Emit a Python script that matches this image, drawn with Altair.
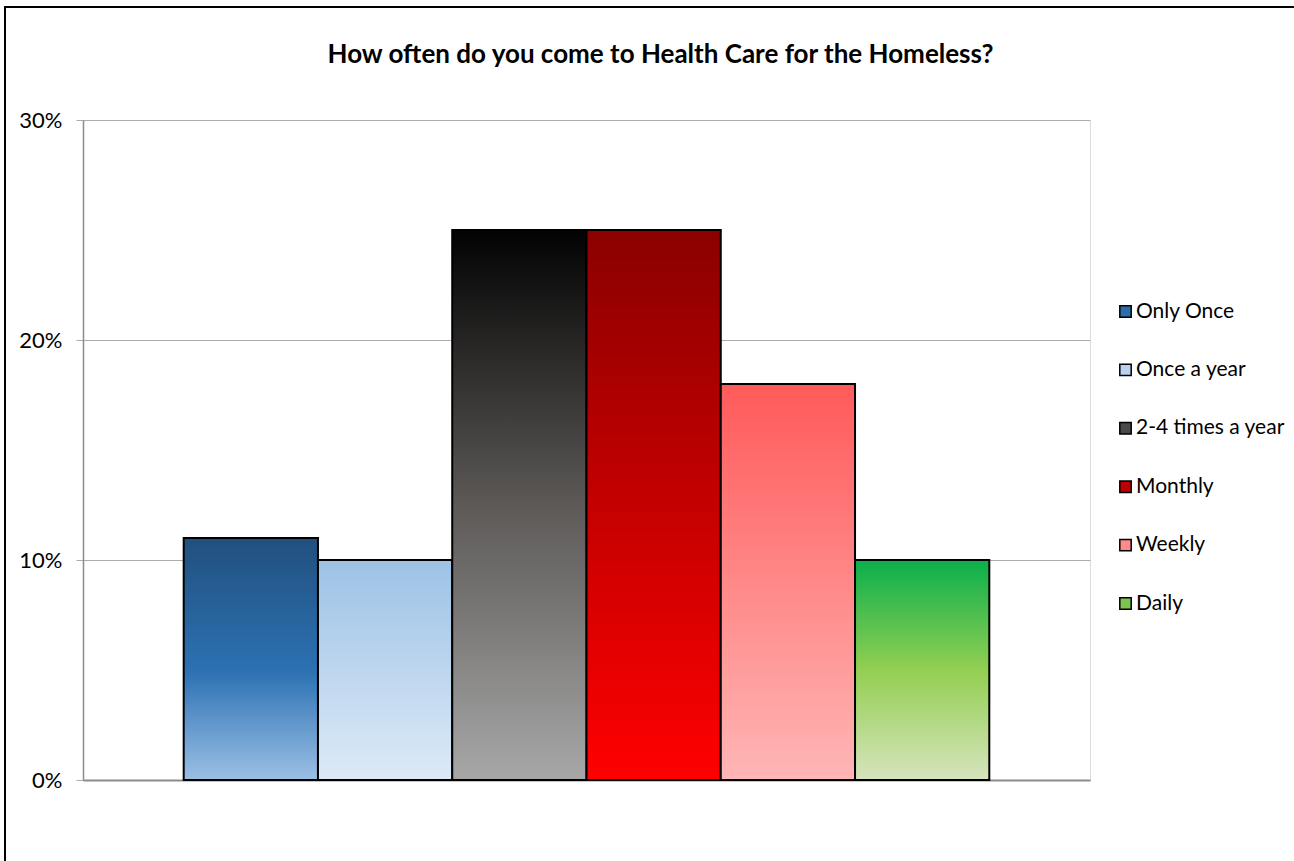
import altair as alt
import pandas as pd

# Survey answers and their shares
categories = ["Only Once", "Once a year", "2-4 times a year", "Monthly", "Weekly", "Daily"]
shares = [0.11, 0.10, 0.25, 0.25, 0.18, 0.10]

# Solid colours used for the legend swatches
swatch_colors = ["#2B6CAA", "#B7D3EE", "#4A4848", "#C00000", "#FF8A8A", "#7CC450"]

# Top-to-bottom gradient stops (offset, colour) for each bar
gradient_stops = [
    [(0.0, "#21507E"), (0.55, "#2C71B3"), (1.0, "#9BC0E5")],
    [(0.0, "#9DC2E6"), (1.0, "#DDEAF7")],
    [(0.0, "#020202"), (0.5, "#5C5957"), (1.0, "#A7A7A7")],
    [(0.0, "#8B0000"), (1.0, "#FF0000")],
    [(0.0, "#FF5A5A"), (1.0, "#FFB6B6")],
    [(0.0, "#0AAF4C"), (0.5, "#93CF52"), (1.0, "#D6E4BD")],
]

FONT = "Lato"

df = pd.DataFrame({"category": categories, "share": shares})

x_enc = alt.X(
    "category:N",
    sort=categories,
    scale=alt.Scale(paddingInner=0, paddingOuter=0.75),
    axis=alt.Axis(
        title=None, labels=False, ticks=False, grid=False,
        domain=True, domainColor="#8C8C8C", domainWidth=2,
    ),
)
y_enc = alt.Y(
    "share:Q",
    scale=alt.Scale(domain=[0, 0.3], nice=False),
    axis=alt.Axis(
        title=None, format=".0%", values=[0, 0.1, 0.2, 0.3],
        grid=True, gridColor="#ABABAB", gridWidth=1,
        domain=True, domainColor="#8C8C8C", domainWidth=1.5,
        ticks=True, tickSize=7, tickColor="#ABABAB",
        labelFont=FONT, labelFontSize=22, labelColor="#000000",
        labelPadding=14,
    ),
)

base = alt.Chart(df)

# Solid bars underneath supply the legend
legend_layer = base.mark_bar().encode(
    x=x_enc,
    y=y_enc,
    color=alt.Color(
        "category:N",
        sort=categories,
        scale=alt.Scale(domain=categories, range=swatch_colors),
        legend=alt.Legend(
            title=None, orient="none", legendX=1032, legendY=181,
            symbolType="square", symbolSize=130,
            symbolStrokeColor="#000000", symbolStrokeWidth=1.5,
            symbolOpacity=1,
            labelFont=FONT, labelFontSize=21, labelColor="#000000",
            labelOffset=0, rowPadding=36.4, labelLimit=300,
        ),
    ),
)

# One gradient-filled bar per answer
bar_layers = []
for cat, stops in zip(categories, gradient_stops):
    grad = alt.Gradient(
        gradient="linear",
        stops=[alt.GradientStop(color=c, offset=o) for o, c in stops],
        x1=0, x2=0, y1=0, y2=1,
    )
    bar_layers.append(
        base.transform_filter(alt.datum.category == cat)
        .mark_bar(fill=grad, stroke="#000000", strokeWidth=2)
        .encode(x=x_enc, y=y_enc)
    )

# Outer frame around the whole chart
frame = base.mark_rect(fill=None, stroke="#000000", strokeWidth=1.5).encode(
    x=alt.value(-78), x2=alt.value(1230), y=alt.value(-113), y2=alt.value(900)
)

# The frame reaches above the plot, so the title offset is measured from it
chart = (
    alt.layer(legend_layer, *bar_layers, frame)
    .properties(
        width=1007,
        height=660,
        title=alt.TitleParams(
            "How often do you come to Health Care for the Homeless?",
            font=FONT, fontSize=26, fontWeight="bold", color="#000000",
            anchor="middle", frame="group", dx=74, offset=-83,
            baseline="alphabetic",
        ),
        autosize=alt.AutoSizeParams(type="none"),
        padding={"left": 83, "top": 120, "right": 204, "bottom": 81},
    )
    .configure_view(stroke=None)
    .configure(background="#FFFFFF")
)

chart.save("out.html", embed_options={"renderer": "svg", "actions": False})
